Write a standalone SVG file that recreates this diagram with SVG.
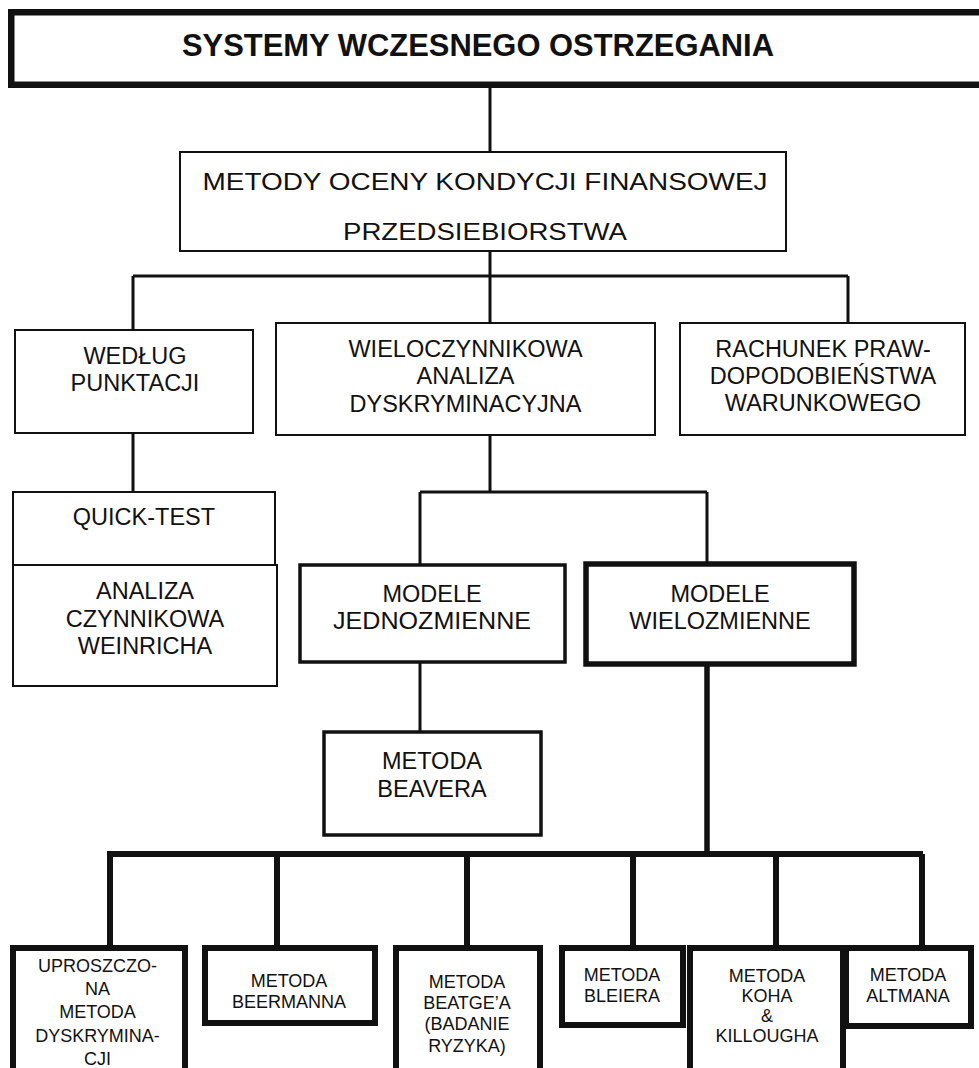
<svg xmlns="http://www.w3.org/2000/svg" width="979" height="1068" viewBox="0 0 979 1068">
<style>
text{font-family:"Liberation Sans",Arial,sans-serif;fill:#111;text-anchor:middle}
.b{fill:#fff;stroke:#111}
.t1{stroke-width:2}
.t2{stroke-width:3.5}
.t3{stroke-width:5.5}
.t4{stroke-width:6}
.m{font-size:23.5px}
.s{font-size:18px}
.c{stroke:#111;fill:none}
</style>
<rect width="979" height="1068" fill="#fff"/>
<g id="connectors">
<path class="c" stroke-width="3" d="M490 88V152M490 251V276M133 276H848M133 276V330M490 276V323M848 276V323"/>
<path class="c" stroke-width="3" d="M133 433V492M490 435V492M420 492H707M420 492V565M707 492V564M420 662V732"/>
<path class="c" stroke-width="5.5" d="M707 664V854"/>
<path class="c" stroke-width="6" d="M107 854H923M110 854V948M277 854V948M467 854V948M633 854V948M776 854V948M922 854V948"/>
</g>
<g id="title">
<rect class="b" x="11.25" y="12.25" width="990" height="72.5" stroke-width="6.5"/>
<text x="478" y="56" font-size="32" font-weight="bold" textLength="592" lengthAdjust="spacingAndGlyphs">SYSTEMY WCZESNEGO OSTRZEGANIA</text>
</g>
<g id="metody">
<rect class="b t1" x="180" y="152" width="606" height="99"/>
<text x="485" y="190" font-size="24" textLength="565" lengthAdjust="spacingAndGlyphs">METODY OCENY KONDYCJI FINANSOWEJ</text>
<text x="485" y="240" font-size="24" textLength="284" lengthAdjust="spacingAndGlyphs">PRZEDSIEBIORSTWA</text>
</g>
<g id="wedlug">
<rect class="b t1" x="15" y="330" width="238" height="103"/>
<text class="m" x="135" y="364">WEDŁUG</text>
<text class="m" x="135" y="391">PUNKTACJI</text>
</g>
<g id="wieloczynnikowa">
<rect class="b t1" x="276" y="323" width="379" height="112"/>
<text class="m" x="465.5" y="357">WIELOCZYNNIKOWA</text>
<text class="m" x="465.5" y="384">ANALIZA</text>
<text class="m" x="465.5" y="412">DYSKRYMINACYJNA</text>
</g>
<g id="rachunek">
<rect class="b t1" x="680" y="323" width="285" height="112"/>
<text class="m" x="823" y="357">RACHUNEK PRAW-</text>
<text class="m" x="823" y="384">DOPODOBIEŃSTWA</text>
<text class="m" x="823" y="411">WARUNKOWEGO</text>
</g>
<g id="quicktest">
<rect class="b t1" x="13" y="492" width="262" height="73"/>
<text class="m" x="144" y="525">QUICK-TEST</text>
</g>
<g id="weinrich">
<rect class="b t1" x="13" y="565" width="264" height="121"/>
<text class="m" x="145" y="599">ANALIZA</text>
<text class="m" x="145" y="627">CZYNNIKOWA</text>
<text class="m" x="145" y="654">WEINRICHA</text>
</g>
<g id="jednozmienne">
<rect class="b t2" x="300" y="565" width="265" height="97"/>
<text class="m" x="432" y="602">MODELE</text>
<text class="m" x="432" y="629" textLength="198" lengthAdjust="spacingAndGlyphs">JEDNOZMIENNE</text>
</g>
<g id="wielozmienne">
<rect class="b t3" x="586" y="564" width="268" height="100"/>
<text class="m" x="720" y="602">MODELE</text>
<text class="m" x="720" y="629">WIELOZMIENNE</text>
</g>
<g id="beavera">
<rect class="b t2" x="324" y="732" width="217" height="103"/>
<text class="m" x="432" y="769">METODA</text>
<text class="m" x="432" y="797">BEAVERA</text>
</g>
<g id="uproszczona">
<rect class="b t4" x="13" y="948" width="172" height="140"/>
<text class="s" x="97.5" y="972">UPROSZCZO-</text>
<text class="s" x="97.5" y="995">NA</text>
<text class="s" x="97.5" y="1018">METODA</text>
<text class="s" x="97.5" y="1042">DYSKRYMINA-</text>
<text class="s" x="97.5" y="1065">CJI</text>
</g>
<g id="beermanna">
<rect class="b t4" x="205" y="948" width="170" height="75"/>
<text class="s" x="289" y="987">METODA</text>
<text class="s" x="289" y="1008">BEERMANNA</text>
</g>
<g id="beatgea">
<rect class="b t4" x="396" y="948" width="144" height="140"/>
<text class="s" x="467" y="988">METODA</text>
<text class="s" x="467" y="1009">BEATGE’A</text>
<text class="s" x="467" y="1030">(BADANIE</text>
<text class="s" x="467" y="1052">RYZYKA)</text>
</g>
<g id="bleiera">
<rect class="b t4" x="562" y="948" width="121" height="77"/>
<text class="s" x="622" y="981">METODA</text>
<text class="s" x="622" y="1002">BLEIERA</text>
</g>
<g id="koha">
<rect class="b t4" x="690" y="948" width="153" height="140"/>
<text class="s" x="767" y="982">METODA</text>
<text class="s" x="767" y="1002">KOHA</text>
<text class="s" x="767" y="1022">&amp;</text>
<text class="s" x="767" y="1042">KILLOUGHA</text>
</g>
<g id="altmana">
<rect class="b t4" x="846" y="948" width="125" height="78"/>
<text class="s" x="908" y="981">METODA</text>
<text class="s" x="908" y="1002">ALTMANA</text>
</g>
</svg>
